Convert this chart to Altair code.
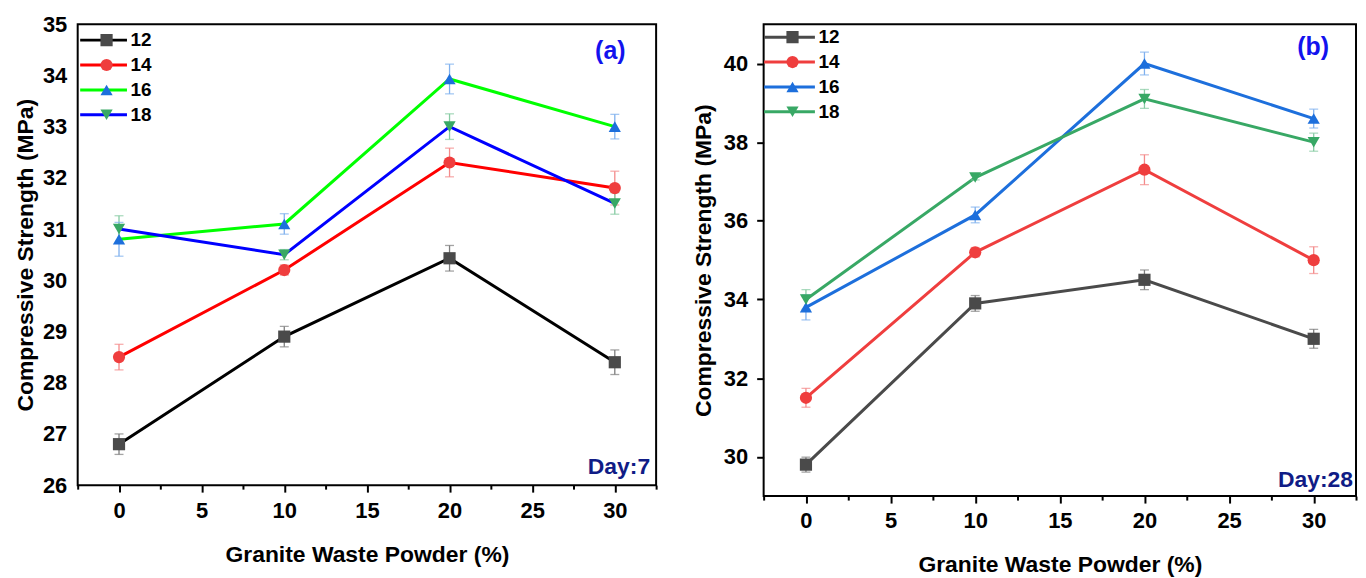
import altair as alt
import pandas as pd

FONT = "Liberation Sans"

# ---------------- data ----------------
x_vals = [0, 10, 20, 30]
series_names = ["12", "14", "16", "18"]

# Day 7
a_vals = {
    "12": [26.8, 28.9, 30.43, 28.4],
    "14": [28.5, 30.2, 32.3, 31.8],
    "16": [30.8, 31.1, 33.93, 33.0],
    "18": [31.0, 30.5, 33.0, 31.5],
}
a_errs = {
    "12": [0.2, 0.2, 0.25, 0.24],
    "14": [0.25, 0.1, 0.28, 0.33],
    "16": [0.33, 0.2, 0.29, 0.24],
    "18": [0.26, 0.1, 0.25, 0.21],
}

# Day 28
b_vals = {
    "12": [29.8, 33.9, 34.5, 33.0],
    "14": [31.5, 35.2, 37.3, 35.0],
    "16": [33.8, 36.15, 40.0, 38.6],
    "18": [34.0, 37.1, 39.1, 38.0],
}
b_errs = {
    "12": [0.19, 0.2, 0.25, 0.24],
    "14": [0.24, 0.12, 0.38, 0.34],
    "16": [0.32, 0.2, 0.29, 0.24],
    "18": [0.25, 0.06, 0.24, 0.23],
}

x_tick_values = [-2.5, 0, 2.5, 5, 7.5, 10, 12.5, 15, 17.5, 20, 22.5, 25, 27.5, 30, 32.5]
x_tick_labels = [0, 5, 10, 15, 20, 25, 30]
a_y_labels = [26, 27, 28, 29, 30, 31, 32, 33, 34, 35]
b_y_labels = [30, 32, 34, 36, 38, 40]

x_title = "Granite Waste Powder (%)"
y_title = "Compressive Strength (MPa)"

# ---------------- styles ----------------
shapes = ["square", "circle", "triangle-up", "triangle-down"]
marker_colors = ["#4a4a4a", "#ef3e3e", "#1d6fdc", "#38a865"]
a_line_colors = ["#000000", "#ff0000", "#00ff00", "#0000ff"]
b_line_colors = ["#4a4a4a", "#ef3e3e", "#1d6fdc", "#38a865"]
err_colors = ["#7d7d7d", "#f48a8a", "#7fb0ee", "#86cba3"]


def build_df(vals, errs):
    rows = []
    for s in series_names:
        for x, v, e in zip(x_vals, vals[s], errs[s]):
            rows.append({"x": x, "y": v, "lo": v - e, "hi": v + e,
                         "series": s, "grp": s, "eb": s})
    return pd.DataFrame(rows)


def in_list(lst):
    return "indexof([" + ",".join(str(v) for v in lst) + "], datum.value) >= 0"


def panel(vals, errs, line_colors, ydomain, ylabels, show_yticks,
          ylabel_pad, ytitle_pad, w, h, leg_x, leg_y, sym_size,
          tag, tag_pos, day, day_pos, xtitle_pad):
    df = build_df(vals, errs)
    xs = alt.Scale(domain=[-2.5, 32.5], nice=False, zero=False)
    ys = alt.Scale(domain=ydomain, nice=False, zero=False)

    xmaj = in_list(x_tick_labels)
    xaxis = alt.Axis(
        values=x_tick_values, title=x_title,
        labelExpr=f"({xmaj}) ? '' + datum.value : ''",
        tickSize=7, tickWidth=2, tickColor="black",
        tickDash={"condition": {"test": f"!({xmaj})", "value": [4, 10]},
                  "value": [10, 0]},
        labelPadding=8, titlePadding=xtitle_pad,
    )
    yaxis = alt.Axis(
        values=ylabels, title=y_title,
        ticks=show_yticks, tickSize=7, tickWidth=2, tickColor="black",
        labelPadding=ylabel_pad, titlePadding=ytitle_pad,
    )

    base = alt.Chart(df)
    x_enc = alt.X("x:Q", scale=xs, axis=xaxis)
    y_enc = alt.Y("y:Q", scale=ys, axis=yaxis)

    line_legend = alt.Legend(
        orient="none", legendX=leg_x, legendY=leg_y, title=None,
        symbolType="stroke", symbolSize=sym_size, symbolStrokeWidth=3,
        clipHeight=20, rowPadding=5, padding=0,
        labelFont=FONT, labelFontSize=19, labelFontWeight="bold", labelColor="black",
        labelOffset=2,
    )
    marker_legend = alt.Legend(
        orient="none", legendX=leg_x + (sym_size ** 0.5 + 3) / 2 - 6.5, legendY=leg_y,
        title=None, symbolSize=150, symbolStrokeWidth=0, symbolOpacity=1,
        clipHeight=20, rowPadding=5, padding=0,
        labelFontSize=19, labelExpr="''",
    )

    lines = base.mark_line(strokeWidth=3).encode(
        x=x_enc, y=y_enc,
        stroke=alt.Stroke("series:N", scale=alt.Scale(range=line_colors), legend=line_legend),
    )
    ecolor = alt.Color("eb:N", scale=alt.Scale(range=err_colors), legend=None)
    rules = base.mark_rule(strokeWidth=1.3).encode(
        x="x:Q", y="lo:Q", y2="hi:Q", color=ecolor,
    )
    caps_lo = base.mark_tick(orient="horizontal", size=9, thickness=1.3).encode(
        x="x:Q", y="lo:Q", color=ecolor,
    )
    caps_hi = base.mark_tick(orient="horizontal", size=9, thickness=1.3).encode(
        x="x:Q", y="hi:Q", color=ecolor,
    )
    points = base.mark_point(filled=True, size=150, opacity=1).encode(
        x="x:Q", y="y:Q",
        fill=alt.Fill("grp:N", scale=alt.Scale(range=marker_colors), legend=marker_legend),
        shape=alt.Shape("grp:N", scale=alt.Scale(range=shapes), legend=marker_legend),
    )
    tag_txt = alt.Chart(pd.DataFrame({"label": [tag]})).mark_text(
        font=FONT, fontSize=25, fontWeight="bold", color="#1212ee",
        align="center", baseline="middle",
    ).encode(x=alt.value(tag_pos[0]), y=alt.value(tag_pos[1]), text="label:N")
    day_txt = alt.Chart(pd.DataFrame({"label": [day]})).mark_text(
        font=FONT, fontSize=23, fontWeight="bold", color="#101c86",
        align="right", baseline="middle",
    ).encode(x=alt.value(day_pos[0]), y=alt.value(day_pos[1]), text="label:N")

    return alt.layer(lines, rules, caps_lo, caps_hi, points, tag_txt, day_txt).properties(
        width=w, height=h
    )


panel_a = panel(a_vals, a_errs, a_line_colors, [26, 35], a_y_labels,
                False, 11, 5, 581, 463, 1, 6, 2209,
                "(a)", (535, 27), "Day:7", (575, 445), 23)
panel_b = panel(b_vals, b_errs, b_line_colors, [29, 41], b_y_labels,
                True, 9, 8, 595, 474, -1, 3, 2601,
                "(b)", (552, 23), "Day:28", (592, 458), 22)

chart = alt.hconcat(panel_a, panel_b, spacing=108, bounds="flush").resolve_scale(
    stroke="independent", fill="independent", shape="independent", color="independent"
).resolve_legend(
    stroke="independent", fill="independent", shape="independent"
).properties(
    padding={"left": 5, "top": 3, "right": 0, "bottom": 0}
).configure_view(
    stroke="black", strokeWidth=2
).configure_axis(
    grid=False, domain=False,
    labelFont=FONT, labelFontSize=22, labelFontWeight="bold", labelColor="black",
    titleFont=FONT, titleFontSize=23, titleFontWeight="bold", titleColor="black",
)

chart.save("out.html", embed_options={"renderer": "svg", "actions": False})
